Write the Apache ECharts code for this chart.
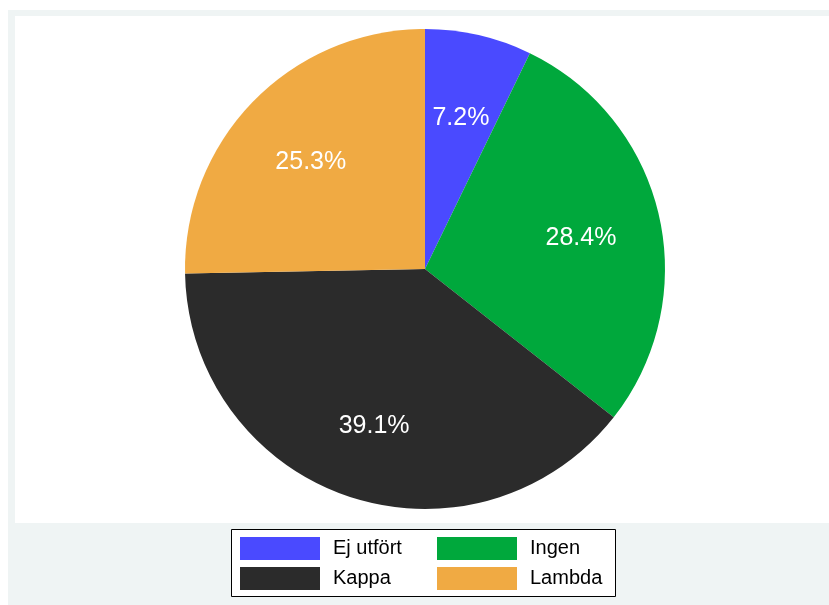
<!DOCTYPE html>
<html>
<head>
<meta charset="utf-8">
<script src="https://cdn.jsdelivr.net/npm/echarts@6/dist/echarts.min.js"></script>
<style>
  html, body { margin: 0; padding: 0; background: #fff; }
  #chart { width: 829px; height: 605px; }
</style>
</head>
<body>
<div id="chart"></div>
<script>
// pie shares, clockwise from 12 o'clock
var categories = ['Ej utfört', 'Ingen', 'Kappa', 'Lambda'];
var shares = [7.2, 28.4, 39.1, 25.3];
var sliceColors = ['#4a4aff', '#00a83c', '#2b2b2b', '#f0aa43'];

var pieData = categories.map(function (name, i) {
    return { name: name, value: shares[i], itemStyle: { color: sliceColors[i] } };
});

var font = '"Liberation Sans", Arial, Helvetica, sans-serif';

// legend grid: 2 columns x 2 rows, one legend per entry so columns line up
var legendCols = [240, 437];
var legendRows = [537, 567];

var legends = categories.map(function (name, i) {
    return {
        left: legendCols[i % 2],
        top: legendRows[Math.floor(i / 2)],
        orient: 'horizontal',
        itemWidth: 80,
        itemHeight: 23,
        padding: 0,
        icon: 'rect',
        selectedMode: false,
        data: [name],
        textStyle: {
            fontFamily: font,
            fontSize: 20,
            color: '#000',
            padding: [0, 0, 0, 8]
        }
    };
});

var chartDom = document.getElementById('chart');
var myChart = echarts.init(chartDom, null, { renderer: 'canvas' });

myChart.setOption({
    backgroundColor: '#fff',
    animation: false,
    color: sliceColors,
    graphic: [
        // outer light frame
        { type: 'rect', z: -10, shape: { x: 8, y: 10, width: 821, height: 595 }, style: { fill: '#eff4f4' } },
        // plot region
        { type: 'rect', z: -9, shape: { x: 15, y: 16, width: 814, height: 507 }, style: { fill: '#fff' } },
        // legend box
        { type: 'rect', z: -8, shape: { x: 231.5, y: 529.5, width: 384, height: 67 },
          style: { fill: '#fff', stroke: '#000', lineWidth: 1 } }
    ],
    legend: legends,
    series: [
        {
            type: 'pie',
            center: [425, 269],
            radius: [0, 240],
            startAngle: 90,
            clockwise: true,
            silent: true,
            label: { show: false },
            labelLine: { show: false },
            itemStyle: { borderWidth: 0 },
            emphasis: { disabled: true },
            data: pieData
        },
        {
            // transparent ring only used to place the labels at ~0.65 r
            type: 'pie',
            center: [425, 269],
            radius: [114, 200],
            startAngle: 90,
            clockwise: true,
            silent: true,
            itemStyle: { color: 'rgba(0,0,0,0)', borderWidth: 0 },
            emphasis: { disabled: true },
            label: {
                show: true,
                position: 'inside',
                color: '#fff',
                fontFamily: font,
                fontSize: 25,
                offset: [0, 5],
                formatter: function (p) { return p.value.toFixed(1) + '%'; }
            },
            labelLine: { show: false },
            data: categories.map(function (name, i) { return { name: name, value: shares[i] }; })
        }
    ]
});
</script>
</body>
</html>
